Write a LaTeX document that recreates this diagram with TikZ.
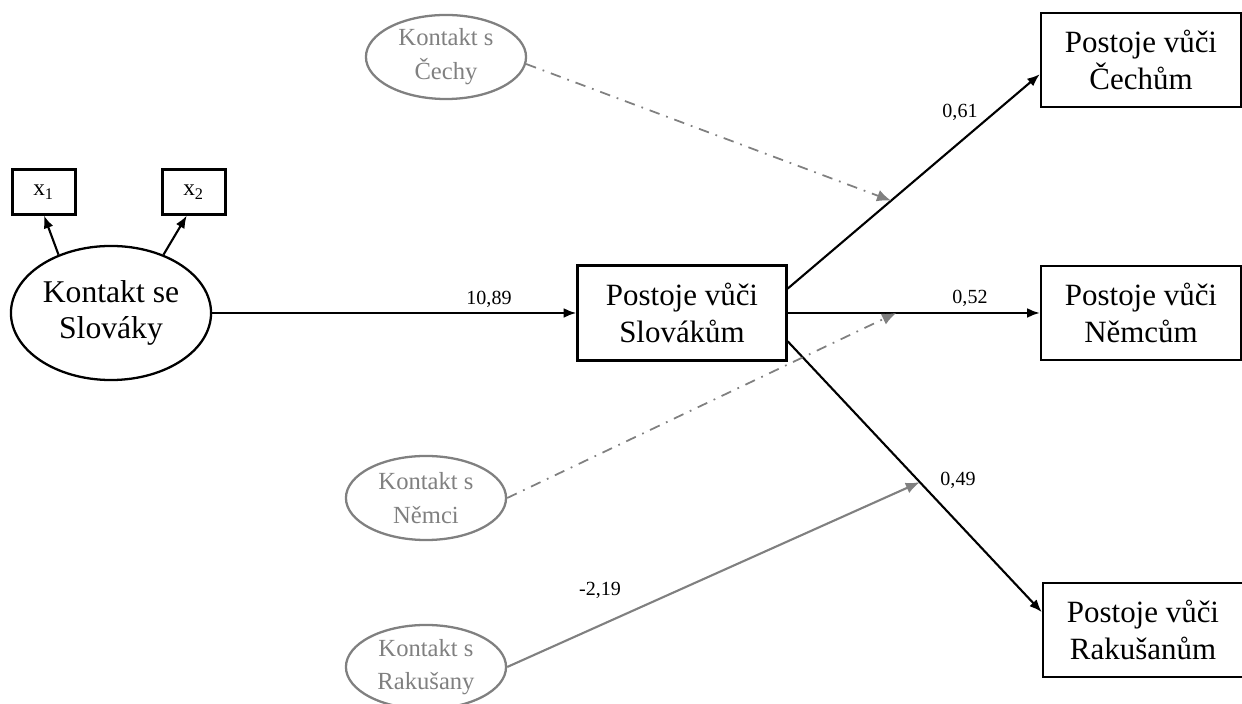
\documentclass[tikz,border=0pt]{standalone}
\usepackage{fontspec}
\setmainfont{Liberation Serif}
\usetikzlibrary{positioning,arrows.meta,shapes.geometric}
\definecolor{latgray}{RGB}{128,128,128}

\begin{document}
\begin{tikzpicture}[x=0.01cm,y=-0.01cm,
    obs/.style={draw,line width=0.65pt,align=center,inner sep=0pt,minimum width=2.0cm,minimum height=0.94cm,font=\fontsize{8.8}{10.3}\selectfont},
    ind/.style={draw,line width=0.6pt,inner sep=0pt,minimum width=0.63cm,minimum height=0.45cm,font=\fontsize{6.6}{7}\selectfont},
    lat/.style={ellipse,draw,line width=0.65pt,align=center,inner sep=0pt,minimum width=2.0cm,minimum height=1.34cm,font=\fontsize{9}{10.3}\selectfont},
    latg/.style={ellipse,draw=latgray,text=latgray,line width=0.65pt,align=center,inner sep=0pt,minimum width=1.6cm,minimum height=0.84cm,font=\fontsize{7}{9.6}\selectfont},
    pth/.style={line width=0.6pt,-{Latex[length=3.6pt,width=2.8pt]}},
    gpth/.style={latgray,line width=0.6pt,-{Latex[length=4pt,width=3.2pt]}},
    ctrl/.style={latgray,line width=0.5pt,dash dot,-{Latex[length=4pt,width=3.4pt]}},
    coef/.style={font=\fontsize{5.7}{6}\selectfont}]

        \useasboundingbox (0,0) rectangle (1242,704);

        % latent variable and its indicators
        \node[lat] (kslov) at (111,313) {Kontakt se\\Slováky};
        \node[ind] (x1) at (44,192) {x\textsubscript{1}};
        \node[ind] (x2) at (194,192) {x\textsubscript{2}};

        % attitudes
        \node[obs, minimum width=2.09cm, minimum height=0.95cm] (pslov) at (682,313) {Postoje vůči\\Slovákům};
        \node[obs] (pcech) at (1141,60) {Postoje vůči\\Čechům};
        \node[obs] (pnem) at (1141,313) {Postoje vůči\\Němcům};
        \node[obs] (prak) at (1143,630) {Postoje vůči\\Rakušanům};

        % moderators
        \node[latg] (kcech) at (446,57) {Kontakt s\\Čechy};
        \node[latg] (knem) at (426,498) {Kontakt s\\Němci};
        \node[latg] (krak) at (426,667) {Kontakt s\\Rakušany};

        \draw[pth] (kslov.132) -- (x1.south);
        \draw[pth] (kslov.48) -- (x2.253);
        \draw[pth] (kslov.east) -- (pslov.west);

        \draw[pth] (pslov.13) -- coordinate[pos=0.41] (mcech) (pcech.188);
        \draw[pth] (pslov.east) -- coordinate[pos=0.43] (mnem) (pnem.west);
        \draw[pth] (pslov.-15) -- coordinate[pos=0.52] (mrak) (prak.170);

        \draw[ctrl] (kcech.-5) -- (mcech);
        \draw[ctrl] (knem.east) -- (mnem);
        \draw[gpth] (krak.east) -- (mrak);

        % coefficients
        \node[coef] (c1089) at (489,299) {10,89};
        \node[coef] (c061) at (960,112) {0,61};
        \node[coef] (c052) at (970,298) {0,52};
        \node[coef] (c049) at (958,480) {0,49};
        \node[coef] (c219) at (600,590) {-2,19};

\end{tikzpicture}
\end{document}
